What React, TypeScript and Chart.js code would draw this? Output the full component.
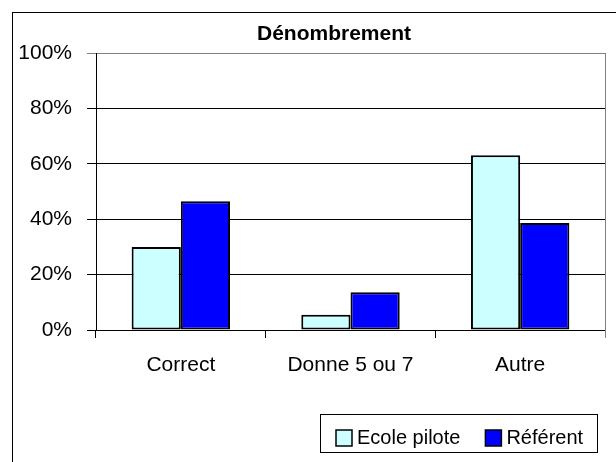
import React, { useEffect, useRef } from "react";
import { Chart, registerables } from "chart.js";

Chart.register(...registerables);

const chartTitle = "Dénombrement";
const categories = ["Correct", "Donne 5 ou 7", "Autre"];
const seriesNames = ["Ecole pilote", "Référent"];
const ecolePilote = [30, 5.5, 63.1];
const referent = [46.5, 13.6, 38.6];
const seriesColors = ["#CCFFFF", "#0000FF"];
const yMin = 0;
const yMax = 100;
const yStep = 20;

const FONT = "'Liberation Sans', Arial, Helvetica, sans-serif";

export default function App() {
  const ref = useRef<HTMLCanvasElement>(null);

  useEffect(() => {
    document.body.style.margin = "0";
    const canvas = ref.current;
    if (!canvas) return;

    const framePlugin = {
      id: "frameAndLegend",
      beforeDraw(chart: any) {
        const ctx = chart.ctx;
        ctx.save();
        ctx.fillStyle = "#ffffff";
        ctx.fillRect(0, 0, chart.width, chart.height);
        ctx.restore();
      },
      afterDraw(chart: any) {
        const { ctx, chartArea } = chart;
        ctx.save();
        // outer chart border (extends beyond the canvas on right/bottom)
        ctx.strokeStyle = "#000";
        ctx.lineWidth = 1;
        ctx.strokeRect(12.5, 12.5, chart.width + 40, chart.height + 40);

        // right border of plot area
        ctx.strokeStyle = "#808080";
        ctx.beginPath();
        ctx.moveTo(Math.round(chartArea.right) + 0.5, chartArea.top);
        ctx.lineTo(Math.round(chartArea.right) + 0.5, chartArea.bottom + 8);
        ctx.stroke();

        // title
        ctx.fillStyle = "#000";
        ctx.font = `bold 21px ${FONT}`;
        ctx.textAlign = "center";
        ctx.textBaseline = "alphabetic";
        ctx.fillText(chartTitle, 334, 40);

        // legend
        ctx.font = `20px ${FONT}`;
        ctx.textAlign = "left";
        const boxLeft = 320;
        const boxTop = 414;
        const boxH = 38;
        const sq = 16;
        let x = 336;
        chart.data.datasets.forEach((ds: any, i: number) => {
          ctx.fillStyle = ds.backgroundColor;
          ctx.fillRect(x, 430, sq, sq);
          ctx.strokeStyle = "#000";
          ctx.lineWidth = 1.5;
          ctx.strokeRect(x, 430, sq, sq);
          ctx.fillStyle = "#000";
          const tx = x + sq + 5;
          ctx.fillText(ds.label, tx, 444);
          const w = ctx.measureText(ds.label).width;
          x = tx + w + (i < chart.data.datasets.length - 1 ? 25 : 0);
        });
        const boxRight = Math.max(597, x + 7);
        ctx.strokeStyle = "#000";
        ctx.lineWidth = 1;
        ctx.strokeRect(boxLeft + 0.5, boxTop + 0.5, boxRight - boxLeft, boxH);
        ctx.restore();
      },
    };

    const chart = new Chart(canvas, {
      type: "bar",
      data: {
        labels: categories,
        datasets: [
          {
            label: seriesNames[0],
            data: ecolePilote,
            backgroundColor: seriesColors[0],
            borderColor: "#000",
            borderWidth: 2,
            borderSkipped: false,
            categoryPercentage: 0.58,
            barPercentage: 1,
          },
          {
            label: seriesNames[1],
            data: referent,
            backgroundColor: seriesColors[1],
            borderColor: "#000",
            borderWidth: 2,
            borderSkipped: false,
            categoryPercentage: 0.58,
            barPercentage: 1,
          },
        ],
      },
      options: {
        responsive: false,
        animation: false,
        layout: { padding: { left: 0, right: 11, top: 53, bottom: 0 } },
        plugins: {
          legend: { display: false },
          title: { display: false },
          tooltip: { enabled: false },
        },
        scales: {
          x: {
            afterFit: (scale: any) => {
              scale.height = 132;
            },
            grid: {
              drawOnChartArea: false,
              offset: true,
              tickLength: 8,
              color: "#000",
            },
            border: { display: true, color: "#000", width: 1 },
            ticks: {
              font: { family: FONT, size: 21 },
              color: "#000",
              padding: 15,
              maxRotation: 0,
              autoSkip: false,
            },
          },
          y: {
            min: yMin,
            max: yMax,
            afterFit: (scale: any) => {
              scale.width = 96;
            },
            grid: {
              tickLength: 9,
              color: (ctx: any) => (ctx.tick && ctx.tick.value === yMax ? "#808080" : "#000"),
            },
            border: { display: true, color: "#000", width: 1 },
            ticks: {
              stepSize: yStep,
              font: { family: FONT, size: 21 },
              color: "#000",
              padding: 15,
              callback: (v: any) => `${v}%`,
            },
          },
        },
      },
      plugins: [framePlugin],
    });

    return () => chart.destroy();
  }, []);

  return (
    <div style={{ width: 616, height: 462 }}>
      <canvas ref={ref} width={616} height={462} style={{ display: "block" }} />
    </div>
  );
}
